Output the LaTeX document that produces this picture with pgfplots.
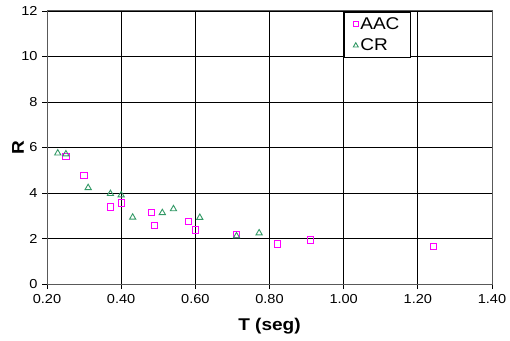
\documentclass[border=0pt]{standalone}
\usepackage{pgfplots}
\pgfplotsset{compat=1.18}
\usepackage{fontspec}
\setmainfont{Liberation Sans}[FakeStretch=1.12]
\definecolor{crgreen}{RGB}{51,153,102}
\definecolor{aacmag}{RGB}{255,0,255}
\begin{document}
\begin{tikzpicture}
\begin{axis}[
  scale only axis,
  width=445pt, height=273pt,
  xmin=0.2, xmax=1.4, ymin=0, ymax=12,
  xtick={0.2,0.4,...,1.41}, ytick={0,2,...,12},
  xticklabel style={yshift=-2pt, /pgf/number format/.cd,fixed,fixed zerofill,precision=2},
  /pgf/number format/assume math mode=true,
  ticklabel style={font=\fontsize{13}{15}\selectfont},
  yticklabel style={xshift=-1pt},
  grid=major,
  major grid style={black, line width=0.9pt},
  axis line style={gray!70!black, line width=1pt},
  tick style={black, line width=0.9pt},
  tick align=outside, major tick length=5pt,
  xtick pos=bottom, ytick pos=left,
  xlabel={T (seg)}, ylabel={R},
  label style={font=\fontsize{17}{19}\selectfont\bfseries},
  xlabel style={at={(axis description cs:0.5,0)}, anchor=center, yshift=-42pt},
  ylabel style={at={(axis description cs:0,0.5)}, anchor=center, yshift=29pt},
  legend style={at={(0.667,0.996)}, anchor=north west, draw=black, line width=0.8pt,
    font=\fontsize{17}{19}\selectfont, inner xsep=9pt, inner ysep=3pt,
    cells={anchor=west}, row sep=4pt},
  legend image post style={scale=0.8},
  legend cell align=left,
]
\addplot[only marks, mark=square, mark size=3.2pt, draw=aacmag,
  mark options={draw=aacmag, fill=none, line width=0.9pt, solid}] coordinates {
(0.251,5.60) (0.300,4.78) (0.371,3.38) (0.400,3.56) (0.481,3.15) (0.490,2.57)
(0.582,2.76) (0.600,2.37) (0.711,2.17) (0.821,1.76) (0.911,1.93) (1.242,1.64)
};
\addlegendentry{AAC}
\addplot[only marks, mark=triangle, mark size=3.6pt, draw=crgreen,
  mark options={draw=crgreen, fill=none, line width=0.9pt, solid}] coordinates {
(0.229,5.75) (0.251,5.71) (0.311,4.23) (0.371,3.97) (0.400,3.91) (0.431,2.93)
(0.511,3.13) (0.541,3.30) (0.612,2.92) (0.711,2.11) (0.772,2.24)
};
\addlegendentry{CR}
\end{axis}
\pgfresetboundingbox
\useasboundingbox ([shift={(-47pt,-56pt)}]current axis.south west) rectangle ([shift={(18pt,11pt)}]current axis.north east);
\end{tikzpicture}
\end{document}
